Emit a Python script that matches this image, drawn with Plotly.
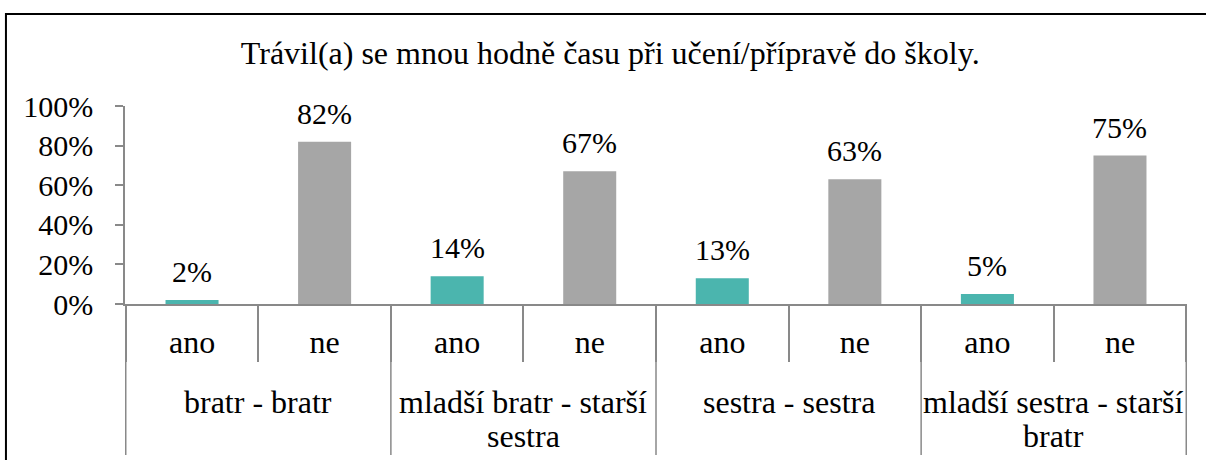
import plotly.graph_objects as go

# Data
groups = ["bratr - bratr", "mladší bratr - starší<br>sestra", "sestra - sestra", "mladší sestra - starší<br>bratr"]
answers = ["ano", "ne"]
ano_values = [0.02, 0.14, 0.13, 0.05]
ne_values = [0.82, 0.67, 0.63, 0.75]

colors = {"ano": "#4BB5AE", "ne": "#A6A6A6"}
axis_color = "#898989"
num_size = 30
text_size = 32

# one category per bar, labelled only with ano / ne
categories, labels, y_values = [], [], []
for g, a, n in zip(groups, ano_values, ne_values):
    for answer, v in zip(answers, [a, n]):
        categories.append(g + " | " + answer)
        labels.append(answer)
        y_values.append(v)

fig = go.Figure()

fig.add_trace(
    go.Bar(
        x=categories,
        y=y_values,
        marker=dict(color=[colors[a] for a in labels], line=dict(width=0)),
        showlegend=False,
    )
)

# value labels above the bars
for c, v in zip(categories, y_values):
    fig.add_annotation(
        x=c, y=v, xref="x", yref="y",
        text=f"{v:.0%}",
        showarrow=False,
        yanchor="bottom",
        yshift=10,
        font=dict(size=num_size),
    )

# group labels (second level of the x axis) and the long dividers
plot_h = 198
for i, g in enumerate(groups):
    for j, line in enumerate(g.split("<br>")):
        fig.add_annotation(
            x=2 * i + 0.5, xref="x",
            y=-(98 + 34 * j) / plot_h, yref="paper",
            text=line,
            showarrow=False,
            yanchor="middle",
            font=dict(size=text_size),
        )
for k in range(len(groups) + 1):
    fig.add_shape(
        type="line", xref="x", yref="paper",
        x0=2 * k - 0.5, x1=2 * k - 0.5, y0=0, y1=-151 / plot_h,
        line=dict(color=axis_color, width=1.5),
    )

fig.update_layout(
    width=1206,
    height=460,
    margin=dict(l=125, r=19, t=106, b=156),
    paper_bgcolor="white",
    plot_bgcolor="white",
    font=dict(family="Liberation Serif", size=num_size, color="black"),
    bargap=0.6,
    title=dict(
        text="Trávil(a) se mnou hodně času při učení/přípravě do školy.",
        x=0.506,
        xanchor="center",
        y=0.885,
        yanchor="middle",
        font=dict(family="Liberation Serif", size=text_size),
    ),
)

fig.update_xaxes(
    type="category",
    tickvals=categories,
    ticktext=labels,
    tickfont=dict(size=text_size),
    tickson="boundaries",
    ticks="outside",
    ticklen=56,
    tickwidth=1.5,
    tickcolor=axis_color,
    ticklabelstandoff=9,
    showline=True,
    linecolor=axis_color,
    linewidth=1.5,
    showgrid=False,
)

fig.update_yaxes(
    range=[0, 1],
    dtick=0.2,
    tickformat=".0%",
    showline=True,
    linecolor=axis_color,
    linewidth=1.5,
    ticks="outside",
    ticklen=8,
    tickwidth=1.5,
    tickcolor=axis_color,
    ticklabelstandoff=16,
    showgrid=False,
    zeroline=False,
)

# chart border
fig.add_shape(
    type="rect", xref="paper", yref="paper",
    x0=-0.1121, x1=1.2, y0=-2, y1=1.4646,
    line=dict(color="black", width=2),
    fillcolor="rgba(0,0,0,0)",
    layer="below",
)

fig.write_html(
    "out.html",
    config={"displayModeBar": False},
    post_script="document.body.style.margin = '0';",
)
